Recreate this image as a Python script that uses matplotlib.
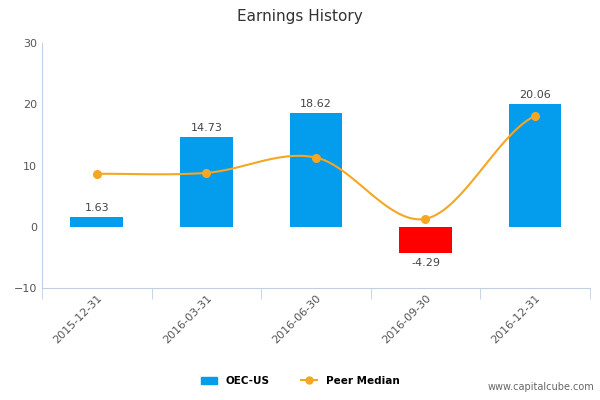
import matplotlib.pyplot as plt
import numpy as np

categories = ["2015-12-31", "2016-03-31", "2016-06-30", "2016-09-30", "2016-12-31"]
earnings = [1.63, 14.73, 18.62, -4.29, 20.06]
peer_median = [8.65, 8.8, 11.3, 1.3, 18.1]


def catmull_rom(xs, ys, n=30):
    xs = np.asarray(xs, float)
    ys = np.asarray(ys, float)
    px = np.concatenate([[2 * xs[0] - xs[1]], xs, [2 * xs[-1] - xs[-2]]])
    py = np.concatenate([[ys[0]], ys, [ys[-1]]])
    out_x, out_y = [], []
    for i in range(1, len(px) - 2):
        t = np.linspace(0, 1, n)
        for p, out in ((px, out_x), (py, out_y)):
            p0, p1, p2, p3 = p[i - 1], p[i], p[i + 1], p[i + 2]
            out.extend(0.5 * (2 * p1 + (-p0 + p2) * t
                              + (2 * p0 - 5 * p1 + 4 * p2 - p3) * t ** 2
                              + (-p0 + 3 * p1 - 3 * p2 + p3) * t ** 3))
    return out_x, out_y


fig = plt.figure(figsize=(6, 4), dpi=100)
ax = fig.add_axes([0.07, 0.28, 0.913, 0.6125])

x = np.arange(len(categories))
colors = ["#049CEC" if v >= 0 else "#FF0000" for v in earnings]
ax.bar(x, earnings, width=0.48, color=colors, zorder=2)
for xi, v in zip(x, earnings):
    ax.text(xi, v + (0.6 if v >= 0 else -0.8), f"{v:.2f}", ha="center",
            va="bottom" if v >= 0 else "top", fontsize=8, color="#444444")

sx, sy = catmull_rom(x, peer_median)
ax.plot(sx, sy, color="#F5A623", lw=1.5, zorder=3)
ax.plot(x, peer_median, "o", color="#F5A623", ms=5.5, zorder=4)

ax.set_xlim(-0.5, len(categories) - 0.5)
ax.set_ylim(-10, 30)
ax.set_yticks([-10, 0, 10, 20, 30])
ax.tick_params(axis="y", length=0, labelsize=8, colors="#555555")
ax.set_xticks(x)
ax.set_xticklabels(categories, rotation=45, ha="right", rotation_mode="anchor",
                   fontsize=8, color="#555555")
ax.tick_params(axis="x", length=0)
ax.set_xticks(np.arange(-0.5, len(categories)), minor=True)
ax.tick_params(axis="x", which="minor", length=8, color="#C0D0E0")
for s in ["top", "right"]:
    ax.spines[s].set_visible(False)
ax.spines["left"].set_color("#C0D0E0")
ax.spines["bottom"].set_color("#C0D0E0")

fig.text(0.5, 0.96, "Earnings History", ha="center", va="center",
         fontsize=11, color="#333333")

from matplotlib.patches import Patch
from matplotlib.lines import Line2D
handles = [Patch(color="#049CEC", label="OEC-US"),
           Line2D([], [], color="#F5A623", marker="o", ms=5, label="Peer Median")]
fig.legend(handles=handles, loc="center", bbox_to_anchor=(0.5, 0.048), ncol=2,
           frameon=False, prop={"size": 7.5, "weight": "bold"},
           handlelength=1.6, columnspacing=3)
fig.text(0.99, 0.02, "www.capitalcube.com", ha="right", va="bottom",
         fontsize=7, color="#666666")

fig.savefig("out.png", dpi=100)
